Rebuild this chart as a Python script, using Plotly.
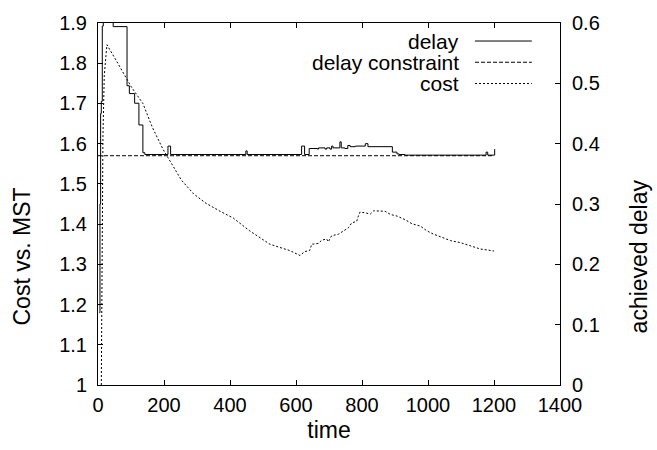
import plotly.graph_objects as go

# ---- data ----
cost_time = [10, 12, 15, 19, 27, 60, 101, 136, 165, 197, 253, 290, 327, 370, 410, 460,
             521, 551, 582, 612, 627, 641, 648, 668, 678, 693, 698, 708, 729, 744, 759,
             769, 784, 789, 794, 810, 825, 835, 855, 870, 886, 906, 931, 951, 977, 997,
             1017, 1047, 1068, 1098, 1128, 1159, 1194, 1200]
cost_vals = [1.0, 1.35, 1.62, 1.77, 1.846, 1.80, 1.741, 1.700, 1.64, 1.586, 1.509, 1.475,
             1.452, 1.432, 1.415, 1.383, 1.350, 1.342, 1.334, 1.322, 1.332, 1.334, 1.350,
             1.352, 1.360, 1.363, 1.356, 1.371, 1.375, 1.383, 1.391, 1.403, 1.407, 1.420,
             1.430, 1.428, 1.425, 1.433, 1.433, 1.432, 1.424, 1.420, 1.411, 1.401, 1.395,
             1.383, 1.375, 1.365, 1.359, 1.354, 1.346, 1.338, 1.334, 1.333]

delay_time = [4, 6, 8, 10, 13, 16, 46, 88, 95, 111, 124, 136, 142, 212, 220, 448, 452,
              617, 626, 640, 665, 668, 688, 693, 703, 708, 712, 733, 737, 748, 757, 764,
              780, 810, 818, 892, 906, 912, 930, 1176, 1181, 1202]
delay_vals = [0.12, 0.30, 0.45, 0.47, 0.595, 0.62, 0.594, 0.496, 0.483, 0.467, 0.431,
              0.385, 0.382, 0.396, 0.382, 0.388, 0.382, 0.396, 0.382, 0.392, 0.391, 0.393,
              0.391, 0.393, 0.391, 0.396, 0.393, 0.403, 0.393, 0.392, 0.397, 0.395, 0.396,
              0.400, 0.395, 0.386, 0.383, 0.382, 0.381, 0.386, 0.381, 0.391]

constraint_time = [0, 1200]
constraint_vals = [0.38, 0.38]

x_ticks = [0, 200, 400, 600, 800, 1000, 1200, 1400]
legend_labels = ["delay", "delay constraint", "cost"]
x_title = "time"
y_title = "Cost vs. MST"
y2_title = "achieved delay"

FONT = "Liberation Sans, Arial, Helvetica, sans-serif"
FS = 20
TS = 23

fig = go.Figure()
fig.add_trace(go.Scatter(x=delay_time, y=delay_vals, mode="lines", name="delay",
                         line=dict(color="black", width=1, shape="hv"), yaxis="y2"))
fig.add_trace(go.Scatter(x=constraint_time, y=constraint_vals, mode="lines",
                         name="delay constraint",
                         line=dict(color="black", width=1, dash="4px,2px"), yaxis="y2"))
fig.add_trace(go.Scatter(x=cost_time, y=cost_vals, mode="lines", name="cost",
                         line=dict(color="black", width=1, dash="2px,2px"), yaxis="y"))

# manual gnuplot-style legend (text then sample)
dashes = ["solid", "4px,2px", "2px,2px"]
rows_y = [0.9502, 0.8916, 0.8328]
for lab, dsh, yy in zip(legend_labels, dashes, rows_y):
    fig.add_annotation(x=0.7835, y=yy, xref="paper", yref="paper", text=lab,
                       showarrow=False, xanchor="right", yanchor="middle", borderpad=0,
                       font=dict(family=FONT, size=21, color="black"))
    fig.add_shape(type="line", xref="paper", yref="paper", x0=0.816, x1=0.939,
                  y0=yy, y1=yy, line=dict(color="black", width=1, dash=dsh))

# axis titles placed like the gnuplot original
fig.add_annotation(x=-0.1645, y=0.355, xref="paper", yref="paper", text=y_title,
                   showarrow=False, textangle=-90, xanchor="center", yanchor="middle",
                   font=dict(family=FONT, size=TS, color="black"))
fig.add_annotation(x=1.173, y=0.355, xref="paper", yref="paper", text=y2_title,
                   showarrow=False, textangle=-90, xanchor="center", yanchor="middle",
                   font=dict(family=FONT, size=TS, color="black"))

fig.update_layout(
    width=657, height=450,
    margin=dict(l=98, r=97, t=18, b=63),
    paper_bgcolor="white", plot_bgcolor="white",
    showlegend=False,
    font=dict(family=FONT, size=FS, color="black"),
    xaxis=dict(range=[0, 1400], tickvals=x_ticks, showgrid=False, zeroline=False,
               showline=True, linecolor="black", linewidth=1, mirror="ticks",
               ticks="inside", ticklen=5, tickcolor="black", ticklabelstandoff=2,
               title=dict(text=x_title, standoff=6,
                          font=dict(family=FONT, size=TS, color="black"))),
    yaxis=dict(range=[1, 1.9], dtick=0.1, tick0=1, showgrid=False, zeroline=False,
               showline=True, linecolor="black", linewidth=1, mirror=True,
               ticks="inside", ticklen=5, tickcolor="black", ticklabelstandoff=6),
    yaxis2=dict(range=[0, 0.6], dtick=0.1, tick0=0, overlaying="y", side="right",
                showgrid=False, zeroline=False, showline=True, linecolor="black",
                linewidth=1, ticks="inside", ticklen=5, tickcolor="black",
                ticklabelstandoff=7),
)

fig.write_html("out.html", config={"displayModeBar": False},
               post_script="document.body.style.margin='0';")
